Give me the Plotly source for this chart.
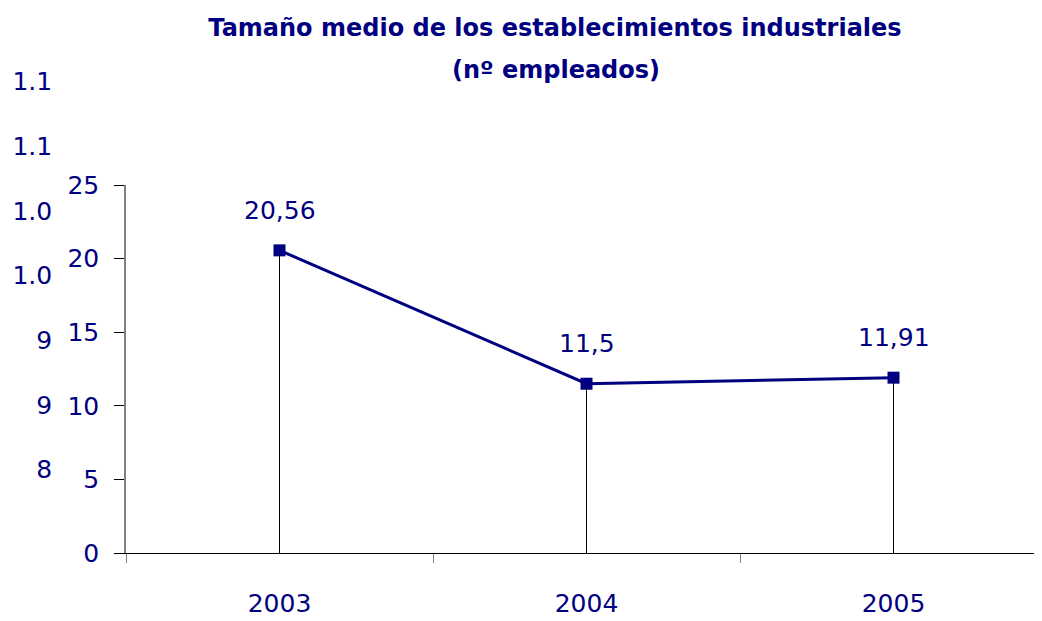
import plotly.graph_objects as go

# ---- data ----
years = ["2003", "2004", "2005"]
tamano_medio = [20.56, 11.5, 11.91]
y_tick_values = [0, 5, 10, 15, 20, 25]
ghost_values = [1150, 1100, 1050, 1000, 950, 900, 850]
ghost_labels = ["1.150", "1.100", "1.050", "1.000", "950", "900", "850"]
title_line1 = "Tamaño medio de los establecimientos industriales"
title_line2 = "(nº empleados)"

# ---- styling / layout geometry (page has an 8px body margin) ----
NAVY = "#000080"
FONT = "DejaVu Sans"
OFF = 8
FW, FH = 1042, 621 - OFF
ml, mr, mt, mb = 0, 0, 60 - OFF, 621 - 553
plot_h = FH - mt - mb
axis_bottom = FH - mb               # fig px of y=0
y_top_px = 185 - OFF
ydom_top = (axis_bottom - y_top_px) / plot_h
x_left_px = 126 - OFF
xdom_left = x_left_px / FW
cat_px = 307
x_range = [-0.5, -0.5 + (FW - x_left_px) / cat_px]

# ghost (clipped) axis geometry
g_slope = 388 / 300.0  # px per unit
g_r0 = 850 - (553 - 472) / g_slope
g_r1 = g_r0 + plot_h / g_slope
clip_px = 52 - OFF
ghost_right_px = 76


def fmt(v):
    s = ("%.2f" % v).rstrip("0").rstrip(".")
    return s.replace(".", ",")


fig = go.Figure()

fig.add_trace(go.Scatter(
    x=years, y=tamano_medio, mode="lines+markers",
    line=dict(color=NAVY, width=3),
    marker=dict(symbol="square", size=12, color=NAVY),
    error_y=dict(type="data", symmetric=False, array=[0] * len(tamano_medio),
                 arrayminus=tamano_medio, color="black", thickness=1, width=0),
    showlegend=False, hoverinfo="x+y",
    xaxis="x", yaxis="y",
))

fig.add_trace(go.Scatter(
    x=[ghost_right_px] * len(ghost_values), y=ghost_values, mode="text",
    text=ghost_labels, textposition="middle left",
    textfont=dict(family=FONT, size=25, color=NAVY),
    cliponaxis=True, showlegend=False, hoverinfo="skip",
    xaxis="x3", yaxis="y3",
))

annotations = []
for i, v in enumerate(tamano_medio):
    annotations.append(dict(
        x=i, y=v, xref="x", yref="y", text=fmt(v), showarrow=False,
        yshift=40, font=dict(family=FONT, size=25, color=NAVY),
    ))
annotations.append(dict(
    x=(556 - OFF) / FW, y=(axis_bottom - (70 - OFF)) / plot_h,
    xref="paper", yref="paper",
    text=title_line2, showarrow=False, xanchor="center", yanchor="middle",
    font=dict(family=FONT, size=24, color=NAVY, weight="bold"),
))

fig.update_layout(
    width=FW, height=FH,
    margin=dict(l=ml, r=mr, t=mt, b=mb, pad=0),
    paper_bgcolor="white", plot_bgcolor="white",
    title=dict(text=title_line1, x=(555 - OFF) / FW, xanchor="center",
               xref="container", y=1 - (28 - OFF) / FH, yanchor="middle",
               yref="container",
               font=dict(family=FONT, size=24, color=NAVY, weight="bold")),
    xaxis=dict(
        domain=[xdom_left, 1], anchor="y", type="category", range=x_range,
        tickson="boundaries", ticks="outside", ticklen=9, tickcolor="#808080",
        tickwidth=1, showline=True, linecolor="black", linewidth=1,
        showgrid=False, zeroline=False, ticklabelstandoff=28,
        tickfont=dict(family=FONT, size=25, color=NAVY),
    ),
    yaxis=dict(
        domain=[0, ydom_top], anchor="x", range=[0, 25],
        tickvals=y_tick_values, ticks="outside", ticklen=10, tickcolor="black",
        tickwidth=1, showline=True, linecolor="#808080", linewidth=1.5,
        showgrid=False, zeroline=False, ticklabelstandoff=10,
        tickfont=dict(family=FONT, size=25, color=NAVY),
    ),
    xaxis3=dict(domain=[0, clip_px / FW], anchor="y3", range=[0, clip_px],
                showticklabels=False, showline=False, showgrid=False,
                zeroline=False, ticks=""),
    yaxis3=dict(domain=[0, 1], anchor="x3", range=[g_r0, g_r1],
                showticklabels=False, showline=False, showgrid=False,
                zeroline=False, ticks=""),
    annotations=annotations,
)

fig.write_html("out.html")
